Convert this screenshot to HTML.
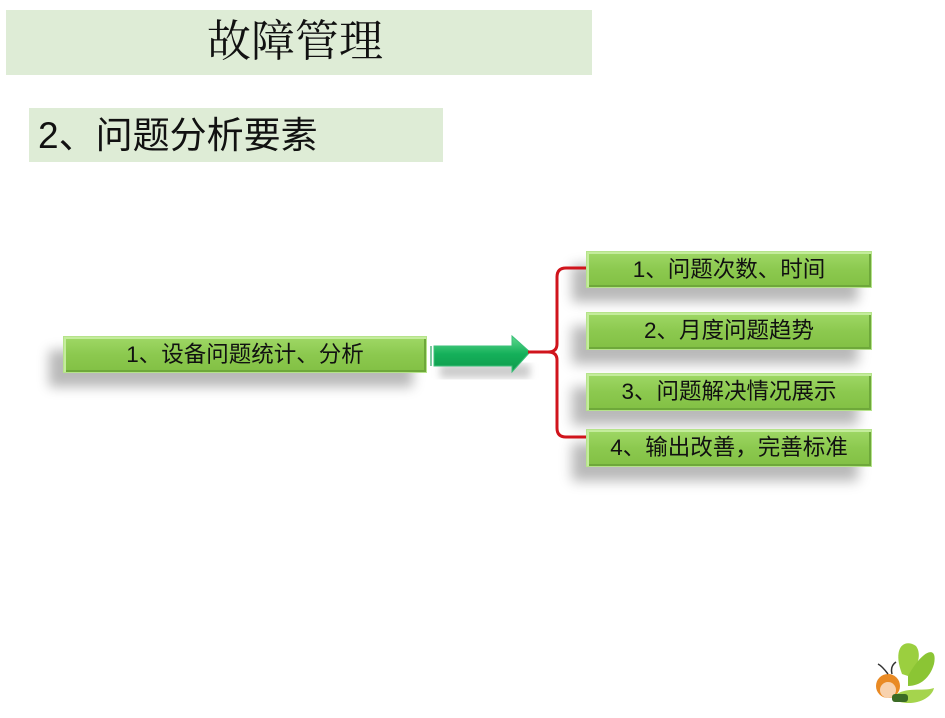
<!DOCTYPE html>
<html><head><meta charset="utf-8"><style>
body{margin:0;width:945px;height:718px;background:#fff;position:relative;overflow:hidden;font-family:"Liberation Sans","Noto Sans CJK SC",sans-serif}
.b{position:absolute;background:linear-gradient(#9fd866,#8cc94f 50%,#82c044);border:1px solid #b5e38a;box-shadow:inset 2px 2px 0 #c4ec9c,inset -2px -2px 0 #6ea83a,-14px 14px 12px rgba(0,0,0,.28);color:#111;font-size:22.5px;text-align:center;box-sizing:border-box}
</style></head><body>
<div style="position:absolute;left:6px;top:10px;width:586px;height:65px;background:#deecd6"></div>
<div style="position:absolute;left:207px;top:14px;font:44px 'Liberation Serif','Noto Serif CJK SC',serif;line-height:56px;color:#111">故障管理</div>
<div style="position:absolute;left:29px;top:108px;width:414px;height:54px;background:#deecd6"></div>
<div style="position:absolute;left:38px;top:112px;font-size:37px;line-height:48px;color:#111">2、问题分析要素</div>

<div class="b" style="left:63px;top:336px;width:364px;height:37px;line-height:35px">1、设备问题统计、分析</div>
<div class="b" style="left:586px;top:251px;width:286px;height:37px;line-height:35px">1、问题次数、时间</div>
<div class="b" style="left:586px;top:312px;width:286px;height:38px;line-height:36px">2、月度问题趋势</div>
<div class="b" style="left:586px;top:373px;width:286px;height:38px;line-height:36px">3、问题解决情况展示</div>
<div class="b" style="left:586px;top:429px;width:286px;height:38px;line-height:36px">4、输出改善，完善标准</div>

<svg width="945" height="718" style="position:absolute;left:0;top:0">
<defs><linearGradient id="g" x1="0" y1="0" x2="0" y2="1"><stop offset="0" stop-color="#5fd98e"/><stop offset=".5" stop-color="#15b05a"/><stop offset="1" stop-color="#0e9a4c"/></linearGradient>
<filter id="s"><feGaussianBlur stdDeviation="4"/></filter></defs>
<rect x="440" y="364" width="90" height="14" fill="rgba(0,0,0,.2)" filter="url(#s)"/>
<rect x="430" y="346" width="2" height="20" fill="#7cc9a0"/>
<path d="M434 346 H512 V336 L530 352 L512 372 V366 H434 Z" fill="url(#g)" stroke="#3bbf78" stroke-width="1"/>
<path d="M586 268 H566 Q557 268 557 277 V344 Q557 352 548 352 H528 M548 352 Q557 352 557 360 V428 Q557 437 566 437 H586" fill="none" stroke="#d0141c" stroke-width="3"/>
<g transform="translate(868,636)">
<path d="M34 38 C24 12 36 2 48 10 C54 18 50 32 40 40 Z" fill="#9bcf3f"/>
<path d="M40 40 C54 14 70 8 66 28 C62 42 52 50 40 50 Z" fill="#8bc534"/>
<path d="M26 60 C38 50 54 56 66 52 C64 62 48 70 32 66 Z" fill="#a5d44d"/>
<circle cx="20" cy="50" r="12" fill="#e98a24"/>
<circle cx="20" cy="54" r="8" fill="#f8d2ae"/>
<path d="M20 38 Q14 30 10 28 M24 38 Q22 30 28 26" stroke="#333" stroke-width="1.5" fill="none"/>
<rect x="24" y="58" width="16" height="8" rx="3" fill="#3b6b25"/>
</g>
</svg>
</body></html>
